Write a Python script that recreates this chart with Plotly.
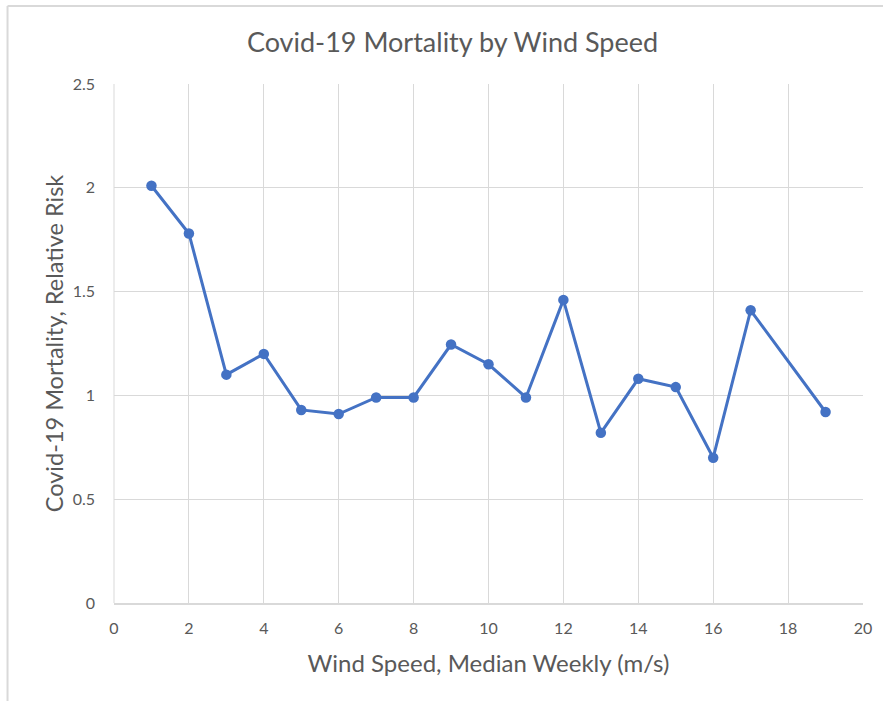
import plotly.graph_objects as go

wind_speed = [1, 2, 3, 4, 5, 6, 7, 8, 9, 10, 11, 12, 13, 14, 15, 16, 17, 19]
relative_risk = [2.01, 1.78, 1.10, 1.20, 0.93, 0.91, 0.99, 0.99, 1.245, 1.15, 0.99, 1.46, 0.82, 1.08, 1.04, 0.70, 1.41, 0.92]

title_text = "Covid-19 Mortality by Wind Speed"
x_title = "Wind Speed, Median Weekly (m/s)"
y_title = "Covid-19 Mortality, Relative Risk"

FONT = "Lato"
GREY_TEXT = "#595959"
GRID = "#d9d9d9"
BLUE = "#4472C4"

W, H = 883, 701
L, R, T, B = 113.5, 20.3, 84, 97.5
pw = W - L - R
ph = H - T - B

def px2x(px):
    return (px - L) / pw

def py2y(py):
    return (H - B - py) / ph

fig = go.Figure()
fig.add_trace(go.Scatter(
    x=wind_speed, y=relative_risk, mode="lines+markers",
    line=dict(color=BLUE, width=3),
    marker=dict(color=BLUE, size=10.5),
    showlegend=False, hoverinfo="x+y",
))

fig.update_layout(
    width=W, height=H,
    margin=dict(l=L, r=R, t=T, b=B, pad=0),
    paper_bgcolor="white", plot_bgcolor="white",
    font=dict(family=FONT, color=GREY_TEXT),
    title=dict(text=title_text, x=452.5 / W, xanchor="center", xref="container",
               y=1 - 43 / H, yanchor="middle", yref="container",
               font=dict(size=27, color=GREY_TEXT, family=FONT)),
    xaxis=dict(range=[0, 20], dtick=2, tick0=0, showgrid=True, gridcolor=GRID, gridwidth=1,
               zeroline=False, showline=True, linecolor=GRID, linewidth=2, mirror=False,
               ticks="", ticklabelstandoff=10,
               tickfont=dict(size=16, color=GREY_TEXT, family=FONT),
               title=dict(text=x_title, standoff=19, font=dict(size=24, color=GREY_TEXT, family=FONT))),
    yaxis=dict(range=[0, 2.5], dtick=0.5, tick0=0, showgrid=True, gridcolor=GRID, gridwidth=1,
               zeroline=False, showline=False, ticks="", ticklabelstandoff=18,
               tickfont=dict(size=16, color=GREY_TEXT, family=FONT),
               title=dict(text=y_title, standoff=2, font=dict(size=23.5, color=GREY_TEXT, family=FONT))),
    shapes=[
        dict(type="line", xref="paper", yref="paper", x0=px2x(7), x1=px2x(7), y0=py2y(6), y1=py2y(720),
             line=dict(color=GRID, width=2)),
        dict(type="line", xref="paper", yref="paper", x0=px2x(7), x1=px2x(900), y0=py2y(6), y1=py2y(6),
             line=dict(color=GRID, width=2)),
        dict(type="line", xref="paper", yref="paper", x0=0, x1=0, y0=0, y1=1,
             line=dict(color=GRID, width=1), layer="below"),
    ],
)

fig.write_html("out.html", config={"displayModeBar": False},
               post_script="document.body.style.margin='0px';document.body.style.overflow='hidden';")
